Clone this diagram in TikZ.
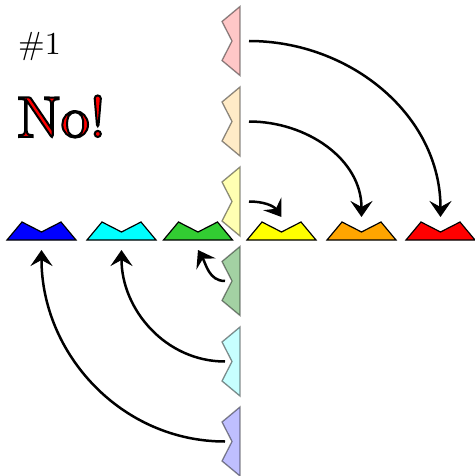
\documentclass[tikz,border=0pt]{standalone}
\usepackage{fontspec}
\usepackage{xcolor}
\usepackage{tikz}
\usetikzlibrary{arrows.meta}

\newfontfamily\tenfont{lmroman10-regular.otf}

\definecolor{pureblue}{RGB}{0,0,255}
\definecolor{purecyan}{RGB}{0,255,255}
\definecolor{limegreen}{RGB}{50,205,50}
\definecolor{pureyellow}{RGB}{255,255,0}
\definecolor{svgorange}{RGB}{255,165,0}
\definecolor{purered}{RGB}{255,0,0}
\definecolor{svggreen}{RGB}{0,128,0}

\tikzset{
    bump/.pic={
        \draw[pic actions] (-34.5,0) -- (-19.5,18) -- (0,8) -- (19.5,18) -- (34.5,0) -- cycle;
        \coordinate (-hi) at (0,23);
        \coordinate (-lo) at (0,-10);
        \coordinate (-in) at (0,15);
        \coordinate (-out) at (0,-9);
    }
}

\begin{document}
\begin{tikzpicture}[
        x=1pt, y=1pt,
        flat/.style={draw=black, line width=1.2pt},
        ghost/.style={draw=black, draw opacity=0.45, fill opacity=0.25, line width=1.3pt},
        move/.style={-{Stealth[length=16pt, width=22pt, inset=6pt]}, line width=2.5pt}
    ]
        \useasboundingbox (0,0) rectangle (474,-476);

        % the row
        \foreach \name/\col/\x in {blue/pureblue/41.5, cyan/purecyan/121.5, green/limegreen/198,
                yellow/pureyellow/281.5, orange/svgorange/361.5, red/purered/440.5}
            \pic[flat, fill=\col] (\name) at (\x,-240) {bump};

        % the column
        \foreach \name/\col/\y/\op in {red/purered/41/0.22, orange/svgorange/121.5/0.22, yellow/pureyellow/201.5/0.3,
                green/svggreen/281/0.36, cyan/purecyan/361.5/0.22, blue/pureblue/441.5/0.25}
            \pic[ghost, fill=\col, fill opacity=\op, rotate=90] (v\name) at (240,-\y) {bump};

        \draw[move] (vred-out) to[out=0, in=90] (red-hi);
        \draw[move] (vorange-out) to[out=0, in=90] (orange-hi);
        \draw[move] (vyellow-out) to[out=0, in=125] (yellow-hi);
        \draw[move] (vgreen-in) to[out=180, in=-60] (green-lo);
        \draw[move] (vcyan-in) to[out=180, in=-90] (cyan-lo);
        \draw[move] (vblue-in) to[out=180, in=-90] (blue-lo);

        \node[anchor=base west, inner sep=0, font=\tenfont\fontsize{32}{36}\selectfont] (count) at (18,-55) {\#1};
        \node[anchor=base west, inner sep=0, font=\tenfont\fontsize{58}{62}\selectfont] (verdict) at (17,-137)
            {\color{purered}\special{pdf:literal direct 0 G 2 w 2 Tr}No!\special{pdf:literal direct 0 Tr}};
    \end{tikzpicture}
\end{document}
